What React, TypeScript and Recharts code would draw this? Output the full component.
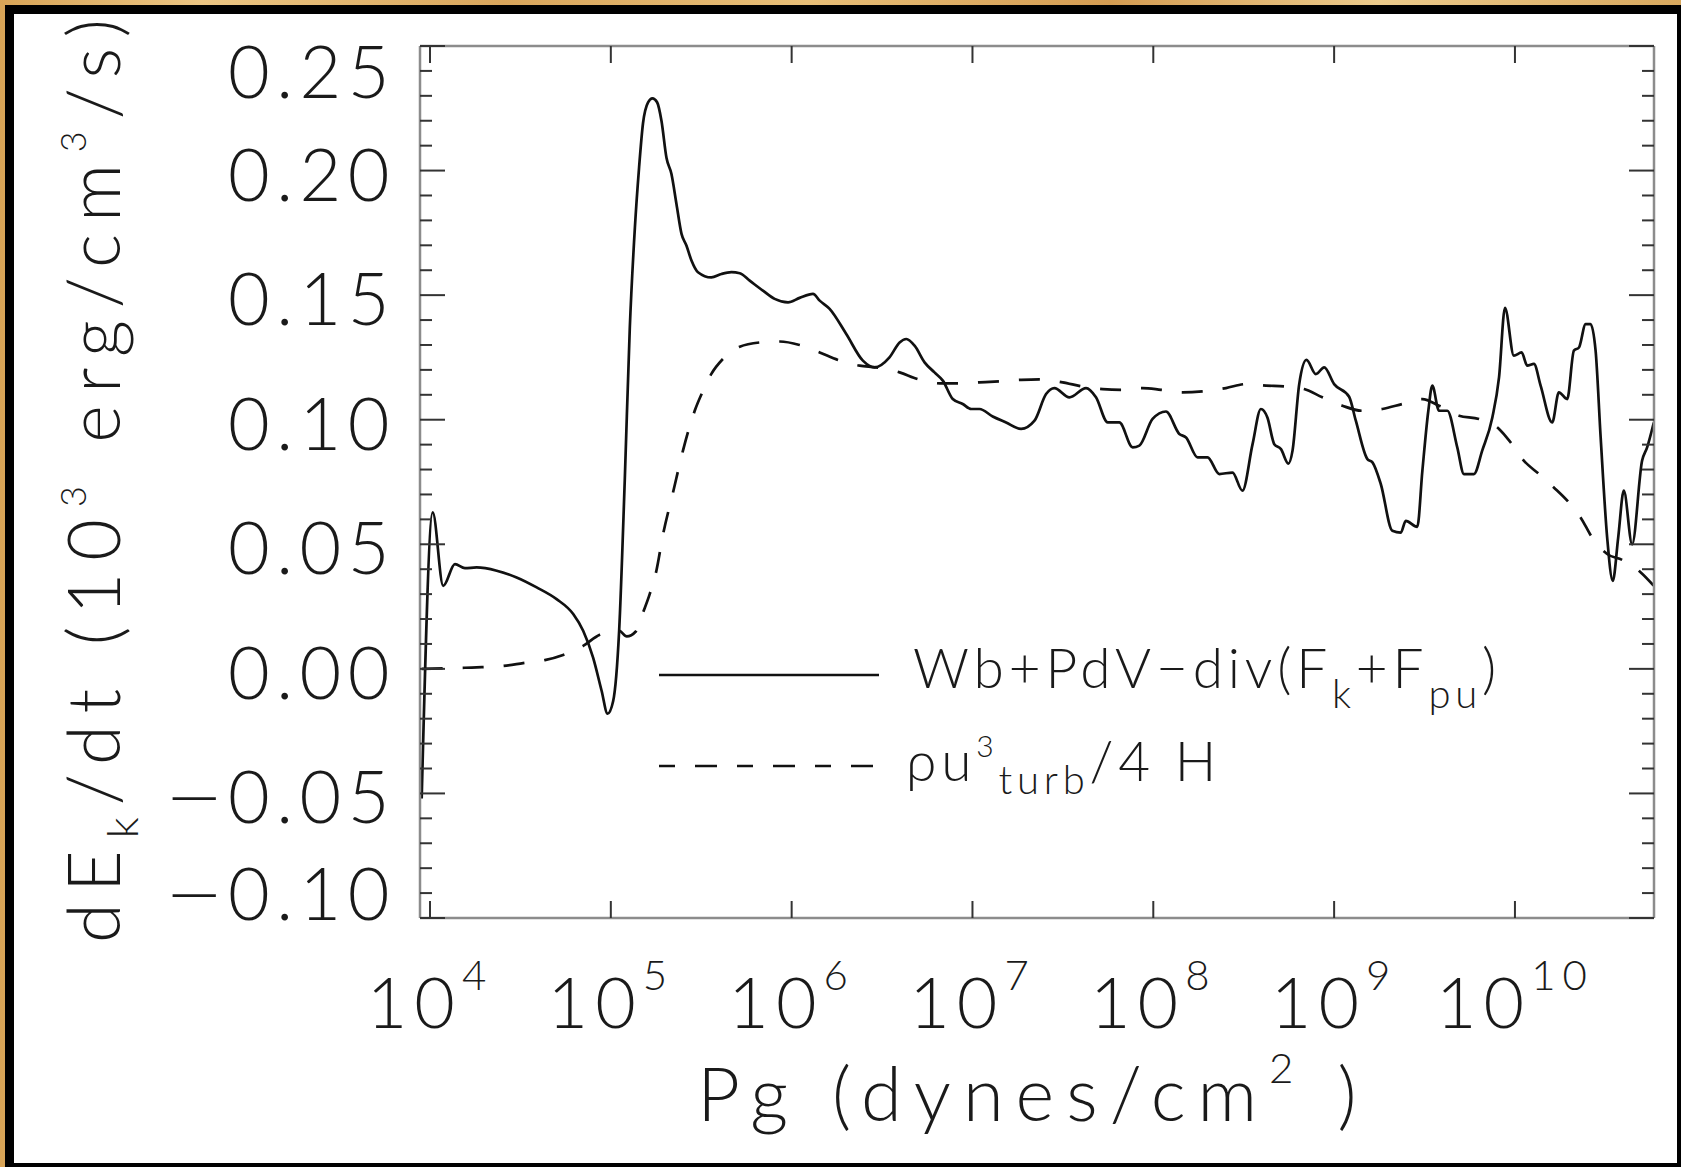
import React from 'react';
import { ComposedChart, Line, XAxis, YAxis, Legend } from 'recharts';

// ---------------- data ----------------
// log10 of gas pressure Pg (dynes/cm^2) and dEk/dt (10^3 erg/cm^3/s)
const solidLogPg = [
  3.954, 4.015, 4.073, 4.138, 4.193, 4.258, 4.369, 4.479, 4.59, 4.7, 4.792, 4.847, 4.902, 4.949, 4.982,
  5.013, 5.046, 5.077, 5.105, 5.133, 5.156, 5.178, 5.206, 5.23, 5.256, 5.28, 5.308, 5.335, 5.363, 5.391,
  5.418, 5.446, 5.482, 5.556, 5.612, 5.667, 5.713, 5.768, 5.841, 5.906, 5.98, 6.044, 6.118, 6.155, 6.21,
  6.302, 6.394, 6.459, 6.541, 6.597, 6.634, 6.68, 6.735, 6.79, 6.836, 6.891, 6.946, 6.993, 7.039, 7.112,
  7.186, 7.269, 7.343, 7.407, 7.453, 7.536, 7.628, 7.683, 7.748, 7.812, 7.886, 7.923, 7.996, 8.07, 8.144,
  8.181, 8.245, 8.3, 8.365, 8.438, 8.493, 8.549, 8.595, 8.631, 8.669, 8.706, 8.747, 8.77, 8.807, 8.847,
  8.899, 8.945, 9.0, 9.083, 9.12, 9.184, 9.212, 9.258, 9.322, 9.369, 9.396, 9.46, 9.488, 9.521, 9.543,
  9.58, 9.626, 9.681, 9.718, 9.773, 9.819, 9.875, 9.912, 9.945, 9.994, 10.037, 10.068, 10.105, 10.142,
  10.206, 10.243, 10.289, 10.326, 10.354, 10.391, 10.418, 10.446, 10.474, 10.51, 10.541, 10.571, 10.602,
  10.648, 10.703, 10.731, 10.768,
];
const solidRate = [
  -0.052, 0.0628, 0.0333, 0.042, 0.0404, 0.0407, 0.0394, 0.0367, 0.0327, 0.028, 0.022, 0.0153, 0.0045, -0.0088, -0.018,
  -0.0129, 0.0153, 0.0755, 0.137, 0.177, 0.201, 0.219, 0.2274, 0.229, 0.2274, 0.22, 0.205, 0.1987, 0.1866, 0.1746,
  0.1699, 0.1639, 0.1592, 0.1571, 0.1585, 0.1592, 0.1588, 0.1558, 0.1518, 0.1485, 0.1471, 0.1489, 0.1505, 0.1478, 0.1445,
  0.1344, 0.1237, 0.121, 0.125, 0.131, 0.1324, 0.1297, 0.123, 0.119, 0.1157, 0.1083, 0.1063, 0.1043, 0.1043, 0.1013,
  0.0989, 0.0963, 0.0996, 0.1103, 0.1127, 0.109, 0.1127, 0.109, 0.0989, 0.0989, 0.0889, 0.0896, 0.1003, 0.1033, 0.0943,
  0.0929, 0.0849, 0.0849, 0.0782, 0.0788, 0.0715, 0.0902, 0.1043, 0.1009, 0.0902, 0.0882, 0.0824, 0.0876, 0.1143, 0.124,
  0.1183, 0.121, 0.1143, 0.1092, 0.0996, 0.0842, 0.0829, 0.0742, 0.0554, 0.0547, 0.0594, 0.057, 0.0795, 0.1036, 0.1137,
  0.1036, 0.1036, 0.0889, 0.0782, 0.0782, 0.0876, 0.1009, 0.117, 0.1449, 0.1257, 0.127, 0.1217, 0.1224, 0.1137,
  0.0989, 0.111, 0.1083, 0.1277, 0.129, 0.1384, 0.1384, 0.1277, 0.0929, 0.0527, 0.0353, 0.0527, 0.0715,
  0.05, 0.0835, 0.0889, 0.0989,
];
const dashedLogPg = [
  3.954, 4.166, 4.258, 4.405, 4.515, 4.635, 4.736, 4.847, 4.939, 5.046, 5.088, 5.138, 5.178, 5.215, 5.252,
  5.289, 5.344, 5.399, 5.464, 5.51, 5.556, 5.62, 5.713, 5.823, 5.934, 6.044, 6.155, 6.256, 6.376, 6.468,
  6.597, 6.698, 6.818, 6.928, 7.039, 7.149, 7.269, 7.37, 7.499, 7.609, 7.72, 7.822, 7.941, 8.043, 8.162,
  8.272, 8.402, 8.512, 8.623, 8.724, 8.834, 8.935, 9.046, 9.156, 9.267, 9.377, 9.488, 9.58, 9.691, 9.801,
  9.912, 9.976, 10.05, 10.133, 10.215, 10.298, 10.363, 10.427, 10.51, 10.594, 10.696, 10.768,
];
const dashedRate = [
  0.0, 0.0004, 0.0006, 0.0012, 0.0023, 0.0035, 0.0056, 0.0092, 0.0137, 0.0153, 0.013, 0.015, 0.0226, 0.03, 0.0394,
  0.054, 0.0708, 0.0876, 0.1036, 0.1116, 0.1184, 0.1244, 0.1293, 0.131, 0.1314, 0.13, 0.127, 0.124, 0.1217, 0.121,
  0.119, 0.1163, 0.1146, 0.1146, 0.115, 0.1154, 0.116, 0.1162, 0.115, 0.1133, 0.1123, 0.112, 0.1127, 0.112, 0.111,
  0.1114, 0.1127, 0.1143, 0.1137, 0.1134, 0.1123, 0.109, 0.1056, 0.1036, 0.1043, 0.1063, 0.1083, 0.1056, 0.1016, 0.1003,
  0.0963, 0.0909, 0.0835, 0.0782, 0.0728, 0.0668, 0.0608, 0.0527, 0.0461, 0.0437, 0.0387, 0.0333,
];

const xTickExponents = [4, 5, 6, 7, 8, 9, 10];
const xDomainLog = [3.9447, 10.769];
const yDomain = [-0.1, 0.25];
const yMajorTicks = [-0.1, -0.05, 0, 0.05, 0.1, 0.15, 0.2, 0.25];
const yMajorLabels = ['\u22120.10', '\u22120.05', '0.00', '0.05', '0.10', '0.15', '0.20', '0.25'];
const yMinorTicks = [
  -0.09, -0.08, -0.07, -0.06, -0.04, -0.03, -0.02, -0.01, 0.01, 0.02, 0.03, 0.04, 0.06, 0.07, 0.08, 0.09,
  0.11, 0.12, 0.13, 0.14, 0.16, 0.17, 0.18, 0.19, 0.21, 0.22, 0.23, 0.24,
];

// ---------------- tables for the library ----------------
const solidData = solidLogPg.map((lp, i) => ({ pg: Math.pow(10, lp), rate: solidRate[i] }));
const dashedData = dashedLogPg.map((lp, i) => ({ pg: Math.pow(10, lp), rate: dashedRate[i] }));
const xTicks = xTickExponents.map((e) => Math.pow(10, e));
const xDomain = xDomainLog.map((v) => Math.pow(10, v));
const yTicks = [...yMinorTicks, ...yMajorTicks].sort((a, b) => a - b);

// ---------------- layout / style ----------------
const W = 1681;
const H = 1167;
const PLOT = { left: 420, right: 1654, top: 46, bottom: 918 };
const FONT = "Lato, 'Open Sans', 'DejaVu Sans', sans-serif";
const TEXT = '#1a1a1a';
const AXIS = '#8c8c8c';
const TICK = '#333333';

const majorIndex = (v: number) => yMajorTicks.findIndex((m) => Math.abs(m - v) < 1e-6);

const LeftTick = (props: any) => {
  const { y, payload } = props;
  const v = payload.value;
  const idx = majorIndex(v);
  const major = idx >= 0;
  let base = y + 30;
  if (Math.abs(v - yDomain[1]) < 1e-6) base = y + 52;
  if (Math.abs(v - yDomain[0]) < 1e-6) base = y + 2;
  const label = major ? yMajorLabels[idx] : '';
  const negative = label.startsWith('\u2212');
  const digits = negative ? label.slice(1) : label;
  return (
    <g>
      <line x1={PLOT.left} x2={PLOT.left + (major ? 25 : 12)} y1={y} y2={y} stroke={TICK} strokeWidth={2} />
      {major && (
        <text x={396} y={base} textAnchor="end" fontFamily={FONT} fontWeight={300} fontSize={72}
          letterSpacing={6.5} fill={TEXT}>
          {digits}
        </text>
      )}
      {major && negative && (
        <text transform={`translate(164,${base}) scale(1.45,1)`} textAnchor="start" fontFamily={FONT}
          fontWeight={300} fontSize={72} fill={TEXT}>
          {'\u2212'}
        </text>
      )}
    </g>
  );
};

const RightTick = (props: any) => {
  const { y, payload } = props;
  const major = majorIndex(payload.value) >= 0;
  return (
    <line x1={PLOT.right} x2={PLOT.right - (major ? 25 : 12)} y1={y} y2={y} stroke={TICK} strokeWidth={2} />
  );
};

const BottomTick = (props: any) => {
  const { x, payload } = props;
  const exp = Math.round(Math.log10(payload.value));
  return (
    <g>
      <line x1={x} x2={x} y1={PLOT.bottom} y2={PLOT.bottom - 17} stroke={TICK} strokeWidth={2} />
      <text x={x} y={1028} textAnchor="middle" fontFamily={FONT} fontWeight={300} fontSize={70}
        letterSpacing={7} fill={TEXT}>
        10<tspan dy={-38} fontSize={42}>{exp}</tspan>
      </text>
    </g>
  );
};

const TopTick = (props: any) => {
  const { x } = props;
  return <line x1={x} x2={x} y1={PLOT.top} y2={PLOT.top + 17} stroke={TICK} strokeWidth={2} />;
};

const YTitle = () => (
  <text transform="translate(120,943) rotate(-90)" textAnchor="start" fontFamily={FONT} fontWeight={300}
    fontSize={72} letterSpacing={12} fill={TEXT}>
    dE<tspan dy={18} fontSize={44}>k</tspan>
    <tspan dy={-18} fontSize={72}>/dt (10</tspan>
    <tspan dy={-34} fontSize={36}>3</tspan>
    <tspan dy={34} fontSize={72}> erg/cm</tspan>
    <tspan dy={-34} fontSize={36}>3</tspan>
    <tspan dy={34} fontSize={72}>/s)</tspan>
  </text>
);

const XTitle = () => (
  <text x={1033} y={1121} textAnchor="middle" fontFamily={FONT} fontWeight={300} fontSize={74}
    letterSpacing={12} fill={TEXT}>
    Pg (dynes/cm<tspan dy={-38} fontSize={42}>2</tspan>
    <tspan dy={38} fontSize={74}> )</tspan>
  </text>
);

const LegendBox = () => {
  const ox = 600;
  const oy = 600;
  return (
    <svg width={950} height={230} style={{ overflow: 'visible', display: 'block' }}>
      <g transform={`translate(${-ox},${-oy})`}>
        <line x1={659} x2={879} y1={675} y2={675} stroke="#111" strokeWidth={2.4} />
        <text x={913} y={688} fontFamily={FONT} fontWeight={300} fontSize={55} letterSpacing={4.8} fill={TEXT}>
          Wb+PdV{'\u2212'}div(F<tspan dy={20} fontSize={40}>k</tspan>
          <tspan dy={-20} fontSize={55}>+F</tspan>
          <tspan dy={20} fontSize={40}>pu</tspan>
          <tspan dy={-20} fontSize={55}>)</tspan>
        </text>
        <line x1={659} x2={879} y1={766} y2={766} stroke="#111" strokeWidth={2.4} strokeDasharray="16 20 22 20" />
        <text x={906} y={781} fontFamily={FONT} fontWeight={300} fontSize={55} letterSpacing={4.8} fill={TEXT}>
          {'\u03C1'}u<tspan dy={-24} fontSize={30}>3</tspan>
          <tspan dy={37} fontSize={40}>turb</tspan>
          <tspan dy={-13} fontSize={55}>/4 H</tspan>
        </text>
      </g>
    </svg>
  );
};

export default function App() {
  return (
    <div
      style={{
        position: 'absolute',
        left: 0,
        top: 0,
        width: W,
        height: H,
        background:
          'linear-gradient(90deg, #d8a457 0%, #ecc684 12%, #d9a65c 30%, #e8bf78 48%, #d49c52 66%, #eccb8c 82%, #d8a85e 100%)',
        overflow: 'hidden',
      }}
    >
      <div style={{ position: 'absolute', left: 5, top: 5, width: W - 5, height: H - 5, background: '#000' }} />
      <div style={{ position: 'absolute', left: 14, top: 14, width: 1677 - 14, height: 1163 - 14, background: '#fff' }} />
      <div style={{ position: 'absolute', left: 0, top: 0 }}>
        <ComposedChart width={W} height={H} margin={{ top: 16, right: 0, bottom: 0, left: 0 }}>
          <XAxis
            xAxisId="b"
            dataKey="pg"
            type="number"
            scale="log"
            domain={xDomain}
            allowDataOverflow
            ticks={xTicks}
            interval={0}
            orientation="bottom"
            height={249}
            tickSize={0}
            tickMargin={0}
            tickLine={false}
            axisLine={{ stroke: AXIS, strokeWidth: 2.5 }}
            tick={<BottomTick />}
            label={<XTitle />}
          />
          <XAxis
            xAxisId="t"
            dataKey="pg"
            type="number"
            scale="log"
            domain={xDomain}
            allowDataOverflow
            ticks={xTicks}
            interval={0}
            orientation="top"
            height={30}
            tickSize={0}
            tickMargin={0}
            tickLine={false}
            axisLine={{ stroke: AXIS, strokeWidth: 2.5 }}
            tick={<TopTick />}
          />
          <YAxis
            yAxisId="l"
            type="number"
            domain={yDomain}
            allowDataOverflow
            ticks={yTicks}
            interval={0}
            orientation="left"
            width={420}
            tickSize={0}
            tickMargin={0}
            tickLine={false}
            axisLine={{ stroke: AXIS, strokeWidth: 2.5 }}
            tick={<LeftTick />}
            label={<YTitle />}
          />
          <YAxis
            yAxisId="r"
            type="number"
            domain={yDomain}
            allowDataOverflow
            ticks={yTicks}
            interval={0}
            orientation="right"
            width={27}
            tickSize={0}
            tickMargin={0}
            tickLine={false}
            axisLine={{ stroke: AXIS, strokeWidth: 2.5 }}
            tick={<RightTick />}
          />
          <Line
            data={solidData}
            dataKey="rate"
            xAxisId="b"
            yAxisId="l"
            type="monotone"
            stroke="#111"
            strokeWidth={2.7}
            dot={false}
            activeDot={false}
            isAnimationActive={false}
            name="Wb+PdV-div(Fk+Fpu)"
          />
          <Line
            data={dashedData}
            dataKey="rate"
            xAxisId="b"
            yAxisId="l"
            type="monotone"
            stroke="#111"
            strokeWidth={2.7}
            strokeDasharray="21 20"
            dot={false}
            activeDot={false}
            isAnimationActive={false}
            name="rho u^3 turb / 4 H"
          />
          <Legend
            content={<LegendBox />}
            layout="horizontal"
            verticalAlign="middle"
            align="center"
            wrapperStyle={{ position: 'absolute', left: 600, top: 600, width: 950, height: 230 }}
          />
        </ComposedChart>
      </div>
    </div>
  );
}
